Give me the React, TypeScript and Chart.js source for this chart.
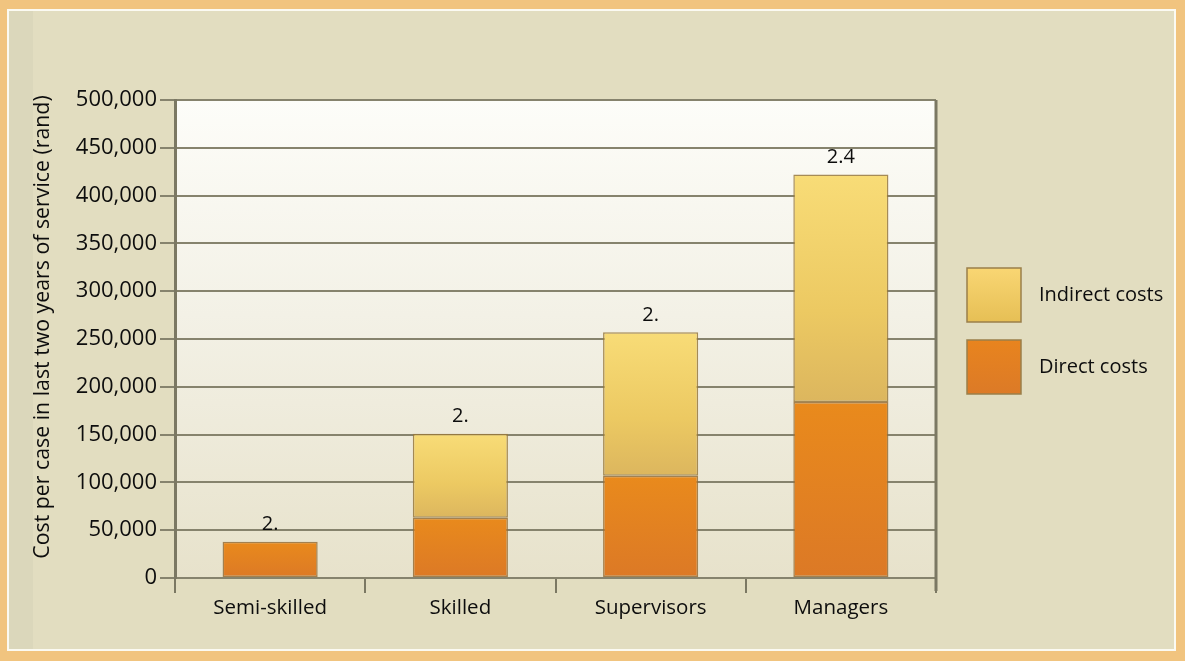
import React, { useEffect, useRef } from 'react';
import { Chart, registerables } from 'chart.js';

Chart.register(...registerables);

// ---- data ----
const categories = ['Semi-skilled', 'Skilled', 'Supervisors', 'Managers'];
const directCosts = [38000, 63000, 107000, 184000];
const indirectCosts: (number | null)[] = [null, 88000, 150000, 238000];
const barLabels = ['2.', '2.', '2.', '2.4'];
const seriesNames = ['Direct costs', 'Indirect costs'];
const yMin = 0;
const yMax = 500000;
const yStep = 50000;
const yTitle = 'Cost per case in last two years of service (rand)';

const FONT = "'Open Sans', 'Noto Sans', sans-serif";
const TEXT = '#0d0d0d';
const LINE = '#7b7863';

function gradientFor(ctx: any, kind: 'direct' | 'indirect') {
  const fallback = kind === 'direct' ? '#e4801f' : '#efcb66';
  if (ctx.type !== 'data') return fallback;
  const chart = ctx.chart;
  const y = chart.scales && chart.scales.y;
  if (!y || !chart.chartArea) return fallback;
  const i = ctx.dataIndex;
  const base = kind === 'direct' ? 0 : directCosts[i];
  const top = kind === 'direct' ? directCosts[i] : directCosts[i] + (indirectCosts[i] ?? 0);
  const y0 = y.getPixelForValue(top);
  const y1 = y.getPixelForValue(base);
  if (!isFinite(y0) || !isFinite(y1) || Math.abs(y1 - y0) < 1) return fallback;
  const g = chart.ctx.createLinearGradient(0, y0, 0, y1);
  if (kind === 'direct') {
    g.addColorStop(0, '#e98a1c');
    g.addColorStop(1, '#dc7926');
  } else {
    g.addColorStop(0, '#f8dc77');
    g.addColorStop(0.6, '#ecc962');
    g.addColorStop(1, '#dcb65e');
  }
  return g;
}

const plotBackground = {
  id: 'plotBackground',
  beforeDraw(chart: any) {
    const { ctx, chartArea: a } = chart;
    if (!a) return;
    const g = ctx.createLinearGradient(0, a.top, 0, a.bottom);
    g.addColorStop(0, '#fdfdf9');
    g.addColorStop(0.45, '#f3f1e6');
    g.addColorStop(1, '#e7e2cb');
    ctx.save();
    ctx.fillStyle = g;
    ctx.fillRect(a.left, a.top, a.right - a.left, a.bottom - a.top);
    ctx.restore();
  },
};

const overlays = {
  id: 'overlays',
  afterDraw(chart: any) {
    const { ctx, chartArea: a, scales } = chart;
    if (!a) return;
    ctx.save();
    // right wall line
    ctx.strokeStyle = LINE;
    ctx.lineWidth = 3;
    ctx.beginPath();
    ctx.moveTo(a.right, a.top);
    ctx.lineTo(a.right, a.bottom + 13);
    ctx.stroke();

    // y axis title
    ctx.save();
    ctx.translate(43, (a.top + a.bottom) / 2 - 12);
    ctx.rotate(-Math.PI / 2);
    ctx.fillStyle = TEXT;
    ctx.font = `21.3px ${FONT}`;
    ctx.textAlign = 'center';
    ctx.textBaseline = 'middle';
    ctx.fillText(yTitle, 0, 0);
    ctx.restore();

    // labels above stacks
    ctx.fillStyle = TEXT;
    ctx.font = `20px ${FONT}`;
    ctx.textAlign = 'center';
    ctx.textBaseline = 'middle';
    categories.forEach((_, i) => {
      const total = directCosts[i] + (indirectCosts[i] ?? 0);
      const x = scales.x.getPixelForValue(i);
      const yTop = scales.y.getPixelForValue(total);
      ctx.fillText(barLabels[i], x, yTop - 17);
    });

    // legend (Indirect on top, Direct below)
    const cx = a.right + 31;
    const cy = (a.top + a.bottom) / 2;
    const size = 54;
    const items = [
      { name: seriesNames[1], top: cy - 71, c0: '#f9d673', c1: '#e6bf55' },
      { name: seriesNames[0], top: cy + 1, c0: '#e8841e', c1: '#dc7a27' },
    ];
    items.forEach((it) => {
      const g = ctx.createLinearGradient(0, it.top, 0, it.top + size);
      g.addColorStop(0, it.c0);
      g.addColorStop(1, it.c1);
      ctx.fillStyle = g;
      ctx.fillRect(cx, it.top, size, size);
      ctx.strokeStyle = '#9a7f4a';
      ctx.lineWidth = 1.5;
      ctx.strokeRect(cx, it.top, size, size);
      ctx.fillStyle = TEXT;
      ctx.font = `20px ${FONT}`;
      ctx.textAlign = 'left';
      ctx.textBaseline = 'middle';
      ctx.fillText(it.name, cx + size + 18, it.top + size / 2);
    });
    ctx.restore();
  },
};

export default function App() {
  const canvasRef = useRef<HTMLCanvasElement | null>(null);

  useEffect(() => {
    if (!canvasRef.current) return;
    const chart = new Chart(canvasRef.current, {
      type: 'bar',
      data: {
        labels: categories,
        datasets: [
          {
            label: seriesNames[0],
            data: directCosts,
            backgroundColor: (c: any) => gradientFor(c, 'direct'),
            borderColor: 'rgba(150,110,55,0.85)',
            borderWidth: 1.5,
            borderSkipped: false,
            categoryPercentage: 1,
            barPercentage: 0.5,
          },
          {
            label: seriesNames[1],
            data: indirectCosts,
            backgroundColor: (c: any) => gradientFor(c, 'indirect'),
            borderColor: 'rgba(150,120,60,0.85)',
            borderWidth: 1.5,
            borderSkipped: false,
            categoryPercentage: 1,
            barPercentage: 0.5,
          },
        ],
      },
      options: {
        responsive: false,
        animation: false,
        devicePixelRatio: 1,
        layout: { padding: { left: 0, top: 100, right: 249, bottom: 30 } },
        plugins: {
          legend: { display: false },
          tooltip: { enabled: false },
        },
        scales: {
          x: {
            stacked: true,
            afterFit: (s: any) => {
              s.height = 53;
            },
            grid: {
              offset: true,
              drawOnChartArea: false,
              drawTicks: true,
              tickLength: 15,
              color: LINE,
              lineWidth: 2,
            },
            border: { display: false },
            ticks: {
              color: TEXT,
              font: { family: FONT, size: 20.5 },
              padding: 3,
              maxRotation: 0,
            },
          },
          y: {
            stacked: true,
            min: yMin,
            max: yMax,
            afterFit: (s: any) => {
              s.width = 175;
            },
            grid: {
              color: '#86836d',
              lineWidth: 2,
              drawTicks: true,
              tickLength: 15,
            },
            border: { color: LINE, width: 3 },
            ticks: {
              stepSize: yStep,
              color: TEXT,
              font: { family: FONT, size: 22 },
              padding: 3,
              callback: (v: any) => Number(v).toLocaleString('en-US'),
            },
            title: { display: false },
          },
        },
      },
      plugins: [plotBackground, overlays],
    });
    return () => chart.destroy();
  }, []);

  return (
    <div
      style={{
        position: 'fixed',
        left: 0,
        top: 0,
        width: 1185,
        height: 661,
        background: '#f1c47f',
        overflow: 'hidden',
      }}
    >
      <div
        style={{
          position: 'absolute',
          left: 7,
          top: 9,
          width: 1185 - 7 - 9 - 4,
          height: 661 - 9 - 10 - 4,
          border: '2px solid #fbfaf2',
          background: '#e2ddc0',
        }}
      />
      <div
        style={{
          position: 'absolute',
          left: 9,
          top: 11,
          width: 24,
          height: 661 - 11 - 12,
          background: '#dbd7bb',
        }}
      />
      <canvas
        ref={canvasRef}
        width={1185}
        height={661}
        style={{ position: 'absolute', left: 0, top: 0, width: 1185, height: 661 }}
      />
    </div>
  );
}
